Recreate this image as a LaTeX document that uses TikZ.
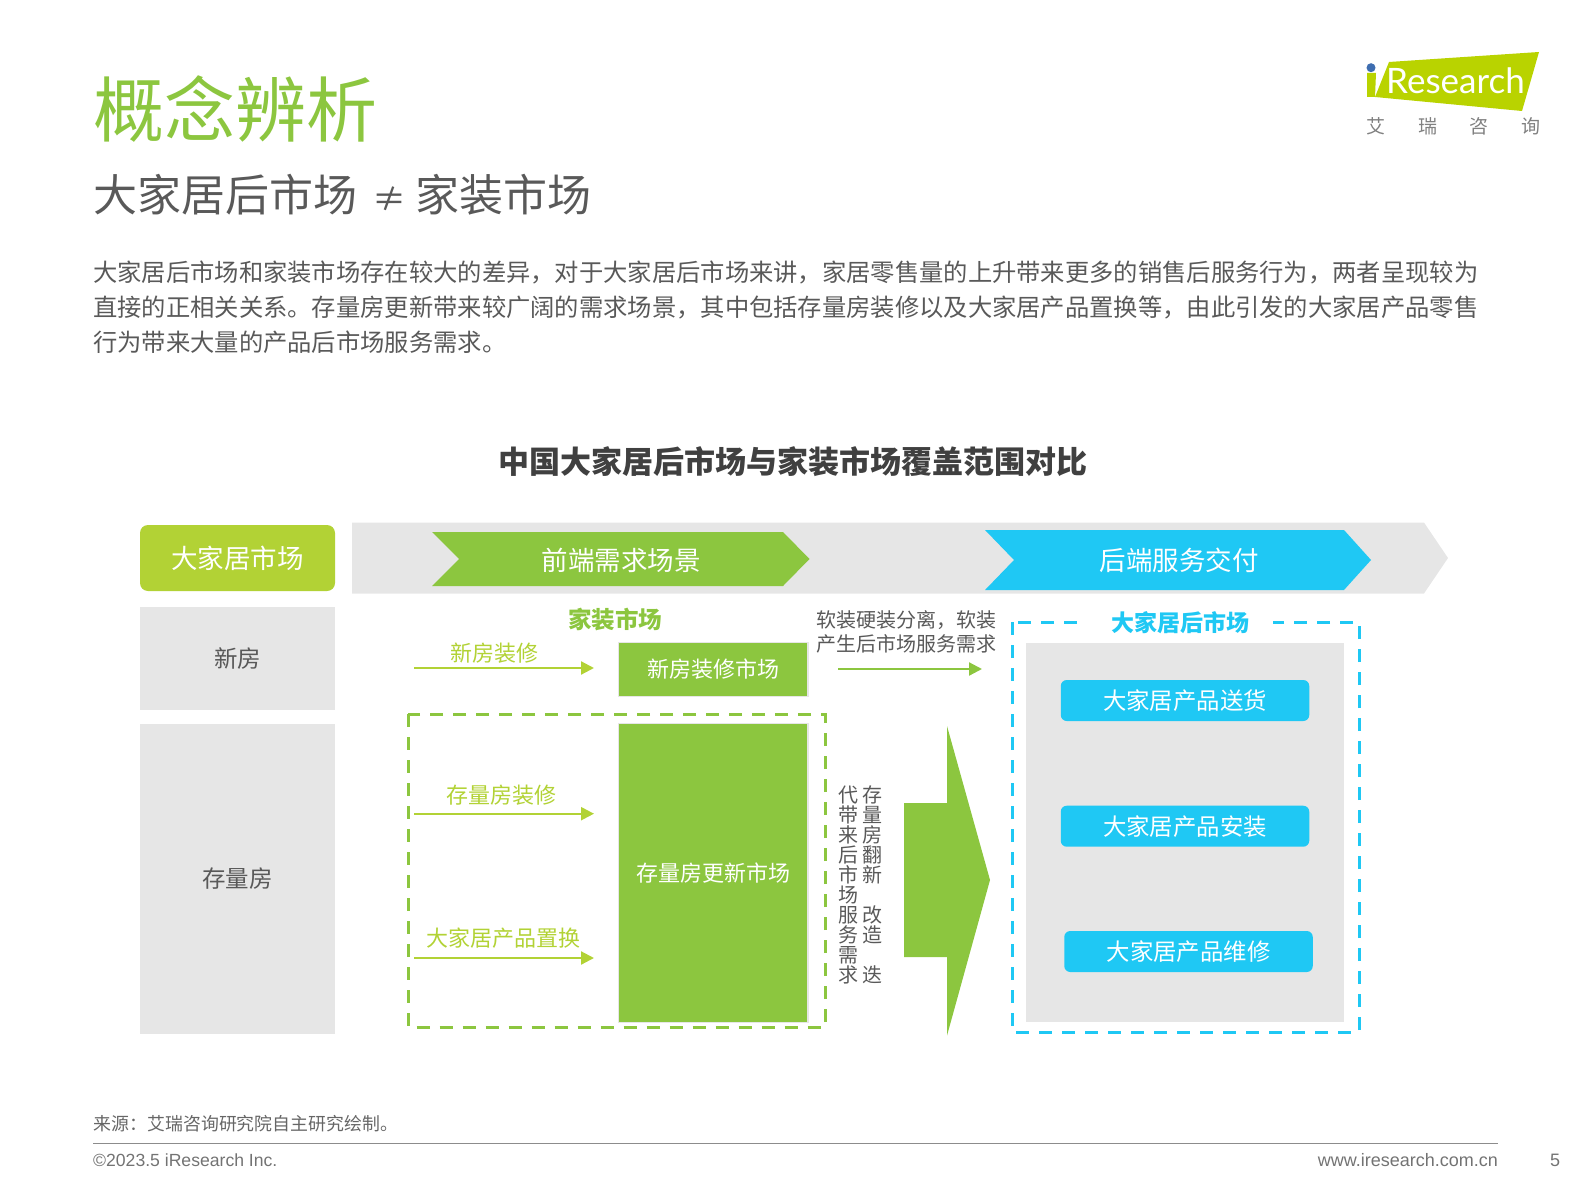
\documentclass[tikz,border=0pt]{standalone}
\usepackage{fontspec}
\setmainfont{Noto Sans CJK SC}
\newfontfamily\arialfont{Liberation Sans}
\newfontfamily\logofont{Lato}
\usetikzlibrary{arrows.meta}
\definecolor{leaf}{HTML}{8CC63F}
\definecolor{lime}{HTML}{B2D235}
\definecolor{logogreen}{HTML}{B9D300}
\definecolor{logoblue}{HTML}{3E6DB0}
\definecolor{sky}{HTML}{1FC8F4}
\definecolor{pale}{HTML}{E6E6E6}
\definecolor{ink}{HTML}{595959}
\newcommand{\fsize}[1]{\fontsize{#1}{#1}\selectfont}
\tikzset{
	txt/.style={inner sep=0pt,text=ink},
	sidebox/.style={fill=pale,inner sep=0pt,minimum width=195pt},
	btn/.style={fill=sky,rounded corners=6pt,inner sep=0pt,minimum width=248.5pt,minimum height=41pt,text=white,font=\fsize{23.4}},
	marketbox/.style={fill=leaf,draw=pale,line width=1.5pt,inner sep=0pt,minimum width=189.5pt,text=white,font=\fsize{22}},
	limearrow/.style={draw=lime,line width=2.2pt,-{Triangle[length=13pt,width=13pt]}},
	vtext/.style={txt,font=\fsize{20}},
	dashbox/.style={line width=3pt,dash pattern=on 13pt off 10pt}
}
\begin{document}
\begin{tikzpicture}[x=1pt,y=-1pt]
	\useasboundingbox (0,0) rectangle (1587,1190);
	% heading
	\node[anchor=west,inner sep=0pt,text=leaf,font=\fsize{71}] (title) at (93,109) {概念辨析};
	\node[anchor=west,txt,font=\fsize{44}] (subtitle) at (93,195) {大家居后市场\hspace{15pt}{\fsize{34}≠}\hspace{9pt}家装市场};
	\node[anchor=north west,txt,align=left,font=\fontsize{24.3}{35}\selectfont] (para) at (93,261) {大家居后市场和家装市场存在较大的差异，对于大家居后市场来讲，家居零售量的上升带来更多的销售后服务行为，两者呈现较为\\直接的正相关关系。存量房更新带来较广阔的需求场景，其中包括存量房装修以及大家居产品置换等，由此引发的大家居产品零售\\行为带来大量的产品后市场服务需求。};
	% logo
	\fill[logogreen] (1389,62) -- (1539,52) -- (1522,111) -- (1375,97) -- cycle;
	\fill[logogreen] (1367,73) -- (1376,73) -- (1375,97) -- (1367,97) -- cycle;
	\fill[logoblue] (1371,67.7) circle (4.5);
	\node[anchor=base west,inner sep=0pt,text=white,font=\logofont\fsize{35}] (logo) at (1386,94) {Research};
	\foreach \ch/\xx in {艾/1376,瑞/1428,咨/1479,询/1531}
		\node[inner sep=0pt,text=gray,font=\fsize{19}] at (\xx,126) {\ch};
	% chart
	\node[txt,text=black!75,font=\bfseries\fsize{31}] (charttitle) at (793,462) {中国大家居后市场与家装市场覆盖范围对比};
	\fill[pale] (352,522.5) -- (1424,522.5) -- (1448,558) -- (1424,593.5) -- (352,593.5) -- cycle;
	\node[fill=lime,rounded corners=8pt,inner sep=0pt,minimum width=195pt,minimum height=66pt,text=white,font=\fsize{26.5}] (market) at (237.5,558) {大家居市场};
	\fill[leaf] (432,532) -- (783,532) -- (809.5,559) -- (783,586) -- (432,586) -- (459,559) -- cycle;
	\node[text=white,inner sep=0pt,font=\fsize{26.5}] (front) at (621,560) {前端需求场景};
	\fill[sky] (985,530) -- (1344,530) -- (1371,560) -- (1344,590) -- (985,590) -- (1014,560) -- cycle;
	\node[text=white,inner sep=0pt,font=\fsize{26.5}] (back) at (1179,560) {后端服务交付};
	\node[sidebox,minimum height=103pt,font=\fsize{23.5},text=ink] (newhouse) at (237.5,658.5) {新房};
	\node[sidebox,minimum height=310.5pt,font=\fsize{23.5},text=ink] (oldhouse) at (237.5,879) {存量房};
	% decoration market
	\node[txt,text=leaf,font=\bfseries\fsize{23.5}] (decor) at (615,620) {家装市场};
	\node[marketbox,minimum height=54pt] (newmarket) at (713,669.5) {新房装修市场};
	\node[txt,text=lime,font=\fsize{22}] (newlabel) at (494.5,653) {新房装修};
	\coordinate (newstart) at (414,668);
	\coordinate (newend) at (594,668);
	\draw[limearrow] (newstart) -- (newend);
	\draw[dashbox,draw=leaf] (408,714) rectangle (825,1027.5);
	\node[marketbox,minimum height=299pt] (oldmarket) at (713,873) {存量房更新市场};
	\node[txt,text=lime,font=\fsize{22}] (renolabel) at (501.6,795.5) {存量房装修};
	\coordinate (renostart) at (414,813.7);
	\coordinate (renoend) at (594,813.7);
	\draw[limearrow] (renostart) -- (renoend);
	\node[txt,text=lime,font=\fsize{22}] (swaplabel) at (503.6,938) {大家居产品置换};
	\coordinate (swapstart) at (414,958);
	\coordinate (swapend) at (594,958);
	\draw[limearrow] (swapstart) -- (swapend);
	% middle
	\node[txt,align=center,font=\fontsize{20}{24}\selectfont] (softnote) at (906.5,632) {软装硬装分离，软装\\产生后市场服务需求};
	\coordinate (softstart) at (838,669);
	\coordinate (softend) at (982,669);
	\draw[limearrow,draw=leaf] (softstart) -- (softend);
	\foreach \ch/\n in {存/0,量/1,房/2,翻/3,新/4,改/6,造/7,迭/9}
		\node[vtext] at (872,795+20*\n) {\ch};
	\foreach \ch/\n in {代/0,带/1,来/2,后/3,市/4,场/5,服/6,务/7,需/8,求/9}
		\node[vtext] at (848,795+20*\n) {\ch};
	\fill[leaf] (904,803) -- (947,803) -- (947,726) -- (990,880) -- (947,1035.6) -- (947,957) -- (904,957) -- cycle;
	% after market
	\fill[pale] (1026,643) rectangle (1344,1022);
	\draw[dashbox,draw=sky] (1012,622) rectangle (1359,1032);
	\node[fill=white,inner sep=0pt,minimum width=186pt,minimum height=41pt,text=sky,font=\bfseries\fsize{23}] (after) at (1180,622.5) {大家居后市场};
	\node[btn] (delivery) at (1185,700.5) {大家居产品送货};
	\node[btn] (install) at (1185,826.2) {大家居产品安装};
	\node[btn] (repair) at (1188.5,951.5) {大家居产品维修};
	% footer
	\node[anchor=west,txt,text=black!60,font=\fsize{17.9}] (source) at (93.5,1124) {来源：艾瑞咨询研究院自主研究绘制。};
	\coordinate (rulestart) at (93,1143.5);
	\coordinate (ruleend) at (1498,1143.5);
	\draw[black!45,line width=1pt] (rulestart) -- (ruleend);
	\node[anchor=west,inner sep=0pt,text=black!55,font=\arialfont\fsize{17.6}] (copy) at (93,1160.5) {©2023.5 iResearch Inc.};
	\node[anchor=east,inner sep=0pt,text=black!55,font=\arialfont\fsize{18}] (web) at (1498,1160.5) {www.iresearch.com.cn};
	\node[inner sep=0pt,text=black!55,font=\arialfont\fsize{18}] (page) at (1555,1160.5) {5};
\end{tikzpicture}
\end{document}
